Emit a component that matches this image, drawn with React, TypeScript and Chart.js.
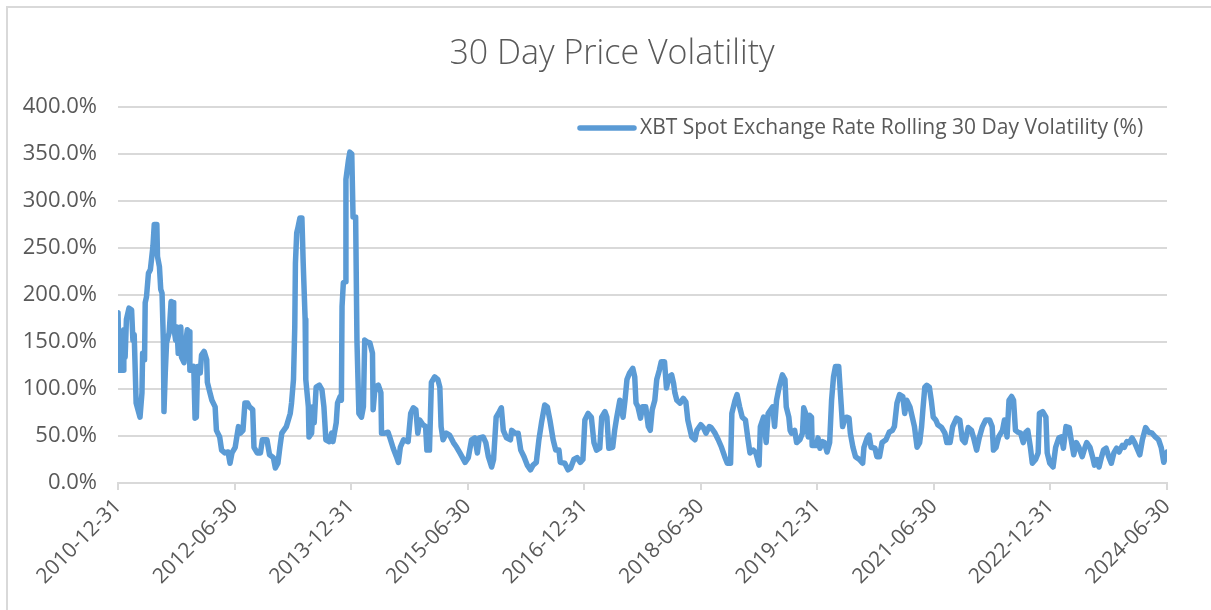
import React, { useEffect, useRef } from "react";
import { Chart, registerables } from "chart.js";

Chart.register(...registerables);

// x = months since 2010-12-31, y = rolling 30 day volatility (%)
const vol2011to2013: [number, number][] = [
  [0.0,181],[0.2,120],[0.8,120],[0.9,163],[1.1,134],[1.3,174],[1.7,186],[2.1,184],[2.3,152],[2.5,158],[2.7,110],[2.8,85],[3.4,70],[3.7,96],[3.8,138],[4.1,131],[4.2,192],[4.4,198],[4.7,223],[5.0,227],[5.4,252],[5.6,275],[6.0,275],[6.1,241],[6.4,230],[6.6,206],[6.8,202],[7.0,152],[7.1,76],[7.3,117],[7.5,149],[7.9,160],[8.2,193],[8.5,192],[8.6,166],[8.9,152],[9.1,166],[9.3,138],[9.7,166],[9.8,134],[10.2,128],[10.5,152],[10.7,163],[11.0,161],[11.1,120],[11.5,120],[11.7,124],[11.9,69],[12.1,70],[12.3,124],[12.7,117],[12.9,136],[13.3,140],[13.7,131],[13.8,107],[14.2,96],[14.5,88],[15.0,81],[15.2,56],[15.7,49],[16.0,35],[16.5,32],[17.0,33],[17.3,21],[17.6,32],[18.1,38],[18.6,60],[18.9,53],[19.3,56],[19.6,85],[20.0,85],[20.3,81],[20.8,78],[21.0,38],[21.5,32],[22.0,32],[22.3,46],[23.0,46],[23.4,30],[24.0,27],[24.3,16],[24.7,21],[25.0,38],[25.3,53],
];

const vol2013to2015: [number, number][] = [
  [26.0,60],[26.6,74],[26.8,85],[27.1,110],[27.3,166],[27.4,234],[27.6,266],[27.8,272],[28.1,282],[28.4,282],[28.6,234],[28.9,174],[29.0,110],[29.4,81],[29.5,49],[29.9,53],[30.1,81],[30.3,64],[30.6,102],[31.1,104],[31.5,99],[31.8,81],[32.1,46],[32.6,44],[33.0,53],[33.2,44],[33.7,64],[33.9,85],[34.3,92],[34.5,88],[34.6,188],[34.8,213],[35.1,214],[35.2,323],[35.6,344],[35.8,352],[36.1,350],[36.3,283],[36.7,283],[36.9,152],[37.2,74],[37.6,70],[37.9,81],[38.1,152],[38.5,150],[38.9,149],[39.3,138],[39.4,78],[39.7,102],[40.2,104],[40.6,96],[40.7,53],[41.2,53],[41.7,54],[42.0,48],[42.5,37],[43.0,28],[43.3,22],[43.6,38],[44.1,46],[44.8,44],[45.2,74],[45.6,80],[46.0,78],[46.3,53],[46.6,67],[47.1,62],[47.5,60],[47.7,35],[48.1,35],[48.4,107],[48.9,113],[49.4,110],[49.7,102],[49.9,60],[50.2,46],[50.7,53],[51.2,51],
];

const vol2015to2017: [number, number][] = [
  [51.8,43],[52.3,38],[52.8,32],[53.6,22],[54.1,27],[54.6,46],[55.1,48],[55.5,32],[55.8,48],[56.4,49],[56.8,43],[57.2,28],[57.7,17],[58.0,25],[58.4,70],[58.9,76],[59.2,80],[59.5,56],[60.0,48],[60.6,46],[60.8,56],[61.3,53],[61.8,53],[62.2,35],[62.7,28],[63.2,19],[63.7,14],[64.1,19],[64.6,22],[65.0,46],[65.4,64],[65.9,83],[66.3,81],[66.7,67],[67.2,46],[67.6,35],[68.1,35],[68.3,22],[69.0,21],[69.5,14],[69.9,16],[70.4,25],[70.9,27],[71.4,22],[71.8,25],[72.1,67],[72.6,74],[73.1,70],[73.5,43],[73.9,35],[74.4,37],[74.7,70],[75.2,76],[75.5,70],[75.8,37],[76.4,38],[76.7,56],[77.0,69],[77.5,88],
];

const vol2017to2019: [number, number][] = [
  [78.0,70],[78.3,88],[78.6,110],[79.0,117],[79.5,122],[79.8,113],[80.0,85],[80.3,81],[80.7,69],[81.0,81],[81.5,81],[81.9,60],[82.2,56],[82.5,78],[82.9,88],[83.2,110],[83.6,120],[83.9,129],[84.4,129],[84.7,101],[85.1,113],[85.5,115],[85.8,106],[86.0,96],[86.3,88],[86.8,85],[87.3,90],[87.7,86],[88.0,67],[88.6,49],[89.1,46],[89.4,56],[90.0,62],[90.4,59],[90.8,53],[91.3,60],[91.6,59],[92.2,53],[92.7,46],[93.2,38],[93.7,28],[94.1,21],[94.6,21],[94.8,74],[95.3,88],[95.6,94],[96.0,81],[96.4,70],[96.9,67],[97.3,46],[97.6,32],[98.1,35],[98.5,32],[99.0,19],[99.2,60],[99.7,70],[100.1,43],[100.4,74],[101.1,81],[101.4,60],[101.7,88],[102.1,102],[102.6,115],[103.0,110],[103.2,81],[103.6,70],[103.8,56],
];

const vol2019to2021: [number, number][] = [
  [104.0,53],[104.5,56],[104.8,43],[105.3,46],[105.7,53],[105.9,80],[106.2,74],[106.6,49],[106.8,72],[107.1,70],[107.2,40],[107.9,40],[108.1,48],[108.4,37],[108.8,44],[109.1,43],[109.5,33],[109.9,43],[110.2,88],[110.5,113],[110.8,124],[111.3,124],[111.6,92],[111.9,60],[112.2,67],[112.5,70],[112.9,69],[113.1,53],[113.5,38],[113.9,28],[114.5,25],[115.0,21],[115.2,38],[115.7,48],[116.0,51],[116.3,38],[116.9,37],[117.2,28],[117.6,28],[118.0,43],[118.6,46],[119.1,54],[119.6,56],[119.9,60],[120.3,85],[120.7,94],[121.2,92],[121.5,74],[121.8,88],[122.3,81],[122.7,69],[123.0,60],[123.4,38],[123.8,43],[124.1,60],[124.3,78],[124.6,102],[124.9,104],[125.3,102],[125.6,88],[125.9,70],[126.3,67],[126.6,62],[127.2,59],[127.7,53],[128.0,43],[128.5,43],[128.9,60],[129.5,69],
];

const vol2021to2024: [number, number][] = [
  [130.0,67],[130.4,46],[130.8,43],[131.3,59],[131.8,56],[132.1,49],[132.6,35],[133.0,48],[133.5,60],[134.0,67],[134.6,67],[135.0,60],[135.2,35],[135.6,38],[136.0,49],[136.6,56],[136.9,67],[137.3,49],[137.6,88],[138.0,92],[138.3,88],[138.6,56],[139.0,54],[139.4,53],[139.8,43],[140.2,54],[140.5,56],[140.9,38],[141.2,21],[141.7,25],[142.1,32],[142.3,74],[142.8,76],[143.3,70],[143.5,32],[143.9,21],[144.4,17],[144.8,38],[145.3,48],[145.7,49],[146.0,37],[146.4,60],[146.9,59],[147.2,46],[147.6,30],[148.0,43],[148.4,38],[148.9,28],[149.3,37],[149.6,43],[150.1,38],[150.5,28],[150.8,19],[151.2,25],[151.5,17],[151.9,28],[152.2,35],[152.6,37],[153.0,28],[153.4,21],[153.8,32],[154.2,37],[154.6,33],[155.1,40],[155.4,38],[155.8,44],[156.2,43],[156.6,48],[157.0,43],[157.3,38],[157.8,30],[158.2,46],[158.7,59],[159.2,54],[159.7,53],[160.2,49],[160.7,46],[161.1,38],[161.5,22],[161.8,28],[162.0,33],
];

const xTickLabels = [
  "2010-12-31", "2012-06-30", "2013-12-31", "2015-06-30", "2016-12-31",
  "2018-06-30", "2019-12-31", "2021-06-30", "2022-12-31", "2024-06-30",
];
const yTicks = [0, 50, 100, 150, 200, 250, 300, 350, 400];

const seriesLabel = "XBT Spot Exchange Rate Rolling 30 Day Volatility (%)";
const chartTitle = "30 Day Price Volatility";

const TEXT = "#595959";
const GRID = "#D9D9D9";
const LINE = "#5B9BD5";
const FONT = '"Open Sans", "Liberation Sans", sans-serif';

export default function App() {
  const ref = useRef<HTMLCanvasElement | null>(null);

  useEffect(() => {
    document.body.style.margin = "0";
    document.body.style.overflow = "hidden";
    const canvas = ref.current;
    if (!canvas) return;

    const allPoints = [
      ...vol2011to2013, ...vol2013to2015, ...vol2015to2017,
      ...vol2017to2019, ...vol2019to2021, ...vol2021to2024,
    ].map(([x, y]) => ({ x, y }));

    const decor = {
      id: "decor",
      beforeDraw(chart: any) {
        const ctx = chart.ctx;
        ctx.save();
        ctx.fillStyle = "#ffffff";
        ctx.fillRect(0, 0, chart.width, chart.height);
        ctx.strokeStyle = GRID;
        ctx.lineWidth = 2;
        ctx.strokeRect(7, 7, chart.width + 20, chart.height + 20);
        ctx.restore();
      },
      afterDraw(chart: any) {
        const ctx = chart.ctx;
        const area = chart.chartArea;
        ctx.save();
        // title
        ctx.fillStyle = TEXT;
        ctx.font = `300 34px ${FONT}`;
        ctx.textAlign = "center";
        ctx.textBaseline = "middle";
        ctx.fillText(chartTitle, 612, 54);
        // legend (inside plot area, top right)
        const ly = area.top + 21;
        ctx.strokeStyle = LINE;
        ctx.lineWidth = 5.5;
        ctx.lineCap = "round";
        ctx.beginPath();
        ctx.moveTo(580, ly);
        ctx.lineTo(634, ly);
        ctx.stroke();
        ctx.fillStyle = TEXT;
        ctx.font = `21px ${FONT}`;
        ctx.textAlign = "left";
        ctx.fillText(seriesLabel, 640, ly);
        ctx.restore();
      },
    };

    const chart = new Chart(canvas, {
      type: "line",
      data: {
        datasets: [
          {
            label: seriesLabel,
            data: allPoints,
            borderColor: LINE,
            backgroundColor: LINE,
            borderWidth: 5.5,
            pointRadius: 0,
            tension: 0,
            borderJoinStyle: "round",
            borderCapStyle: "round",
          },
        ],
      },
      options: {
        animation: false,
        responsive: false,
        maintainAspectRatio: false,
        layout: { padding: { top: 107, right: 44, left: 0, bottom: 0 } },
        plugins: {
          legend: { display: false },
          title: { display: false },
          tooltip: { enabled: false },
        },
        scales: {
          x: {
            type: "linear",
            min: 0,
            max: 162,
            afterFit: (s: any) => { s.height = 127; },
            afterBuildTicks: (s: any) => {
              s.ticks = xTickLabels.map((_, i) => ({ value: i * 18 }));
            },
            ticks: {
              autoSkip: false,
              minRotation: 45,
              maxRotation: 45,
              color: TEXT,
              font: { family: FONT, size: 21 },
              padding: 4,
              callback: (v: any) => xTickLabels[Math.round(Number(v) / 18)] ?? "",
            },
            grid: {
              drawOnChartArea: false,
              drawTicks: true,
              tickLength: 7,
              color: GRID,
              lineWidth: 2,
            },
            border: { display: true, color: GRID, width: 2 },
          },
          y: {
            min: 0,
            max: 400,
            afterFit: (s: any) => { s.width = 118; },
            afterBuildTicks: (s: any) => {
              s.ticks = yTicks.map((v) => ({ value: v }));
            },
            ticks: {
              color: TEXT,
              font: { family: FONT, size: 22 },
              padding: 21,
              callback: (v: any) => `${Number(v).toFixed(1)}%`,
            },
            grid: { color: GRID, lineWidth: 2, drawTicks: false },
            border: { display: false },
          },
        },
      },
      plugins: [decor],
    });

    return () => chart.destroy();
  }, []);

  return (
    <div style={{ width: 1211, height: 610, position: "relative" }}>
      <canvas ref={ref} width={1211} height={610} style={{ display: "block" }} />
    </div>
  );
}
